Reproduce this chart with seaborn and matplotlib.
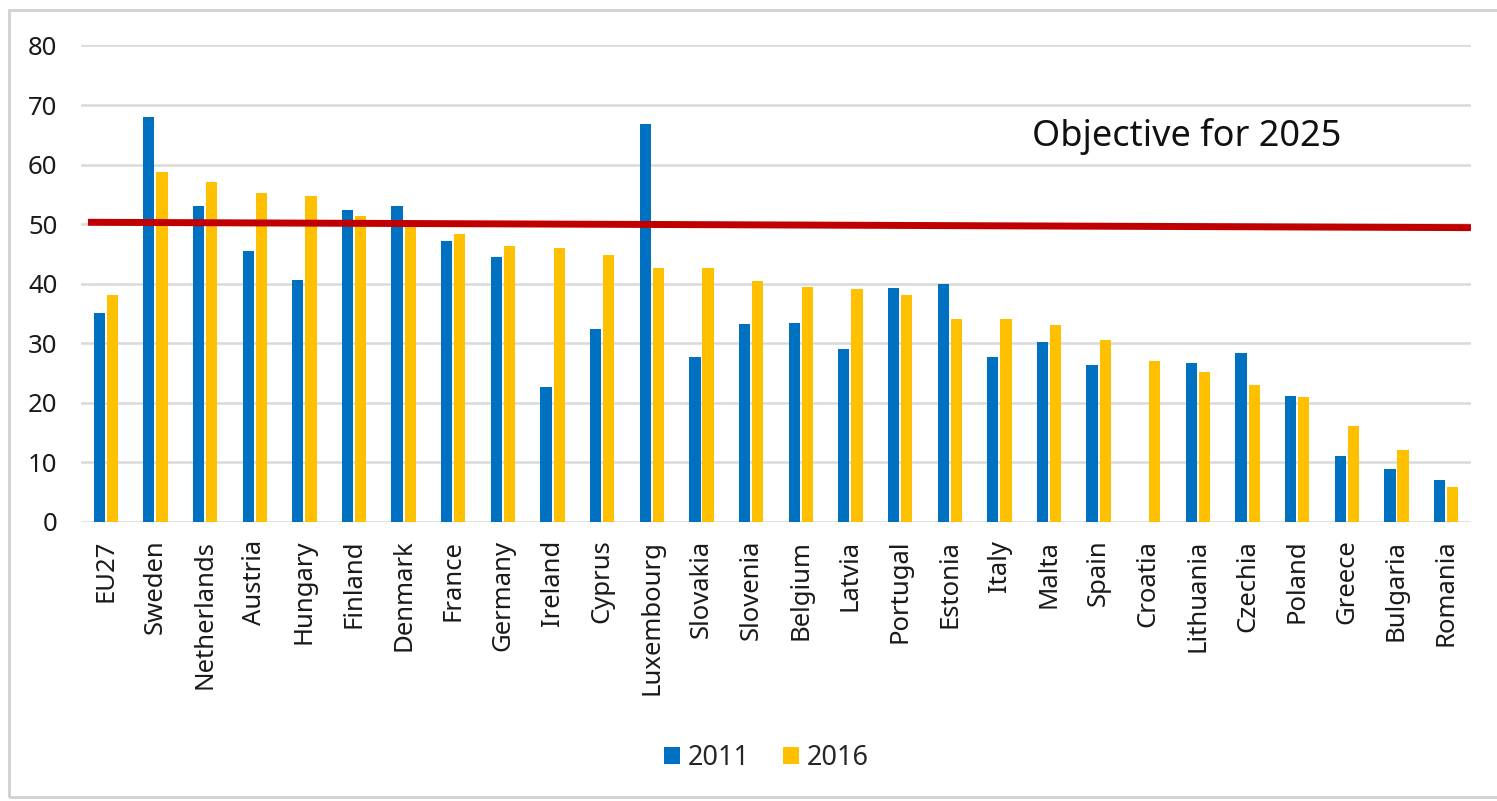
import pandas as pd
import numpy as np
import matplotlib.pyplot as plt
import seaborn as sns
from matplotlib.patches import Rectangle

countries = ['EU27', 'Sweden', 'Netherlands', 'Austria', 'Hungary', 'Finland', 'Denmark',
             'France', 'Germany', 'Ireland', 'Cyprus', 'Luxembourg', 'Slovakia', 'Slovenia',
             'Belgium', 'Latvia', 'Portugal', 'Estonia', 'Italy', 'Malta', 'Spain', 'Croatia',
             'Lithuania', 'Czechia', 'Poland', 'Greece', 'Bulgaria', 'Romania']
values_2011 = [35.0, 68.0, 53.0, 45.4, 40.6, 52.3, 53.1, 47.2, 44.5, 22.7, 32.3, 66.8, 27.6, 33.2,
               33.3, 29.0, 39.2, 40.0, 27.6, 30.2, 26.4, np.nan, 26.6, 28.3, 21.1, 11.0, 8.9, 7.0]
values_2016 = [38.0, 58.7, 57.0, 55.3, 54.7, 51.4, 50.5, 48.4, 46.3, 46.0, 44.8, 42.6, 42.6, 40.4,
               39.5, 39.1, 38.1, 34.0, 34.0, 33.0, 30.5, 27.0, 25.1, 22.9, 21.0, 16.0, 12.0, 5.8]
years = ['2011', '2016']
objective_start = 50.3
objective_end = 49.4
objective_label = 'Objective for 2025'

df = pd.DataFrame({'Country': countries * 2,
                   'Year': [years[0]] * len(countries) + [years[1]] * len(countries),
                   'Value': values_2011 + values_2016})

sns.set_style('white')
plt.rcParams['font.family'] = ['Noto Sans', 'DejaVu Sans']

fig = plt.figure(figsize=(14.97, 8.01), dpi=100)
ax = fig.add_axes([0.0541, 0.3487, 0.9285, 0.5945])

palette = {'2011': '#0070C0', '2016': '#FFC000'}
sns.barplot(data=df, x='Country', y='Value', hue='Year', order=countries, hue_order=years,
            palette=palette, width=0.53, gap=0.15, linewidth=0, saturation=1,
            errorbar=None, ax=ax)

ax.set_ylim(0, 80)
ax.set_xlim(-0.5, len(countries) - 0.5)
ax.set_yticks(range(0, 81, 10))
ax.yaxis.grid(True, color='#D9D9D9', linewidth=1.8)
ax.set_axisbelow(True)
for s in ax.spines.values():
    s.set_visible(False)
ax.set_xlabel('')
ax.set_ylabel('')
ax.tick_params(axis='y', length=0, pad=17, labelsize=18.5, labelcolor='#1a1a1a')
ax.tick_params(axis='x', length=0, pad=13, labelsize=18.5, labelcolor='#1a1a1a')
plt.setp(ax.get_xticklabels(), rotation=90)

# objective line across the plot
ax.plot([-0.36, len(countries) - 0.5], [objective_start, objective_end],
        color='#C00000', linewidth=5, solid_capstyle='butt', zorder=5)
ax.text(18.65, 64.7, objective_label, fontsize=26, va='center', ha='left', color='#111111')

handles, labels = ax.get_legend_handles_labels()
ax.legend_.remove()
fig.legend(handles, labels, loc='center', bbox_to_anchor=(0.512, 0.054), ncol=2,
           frameon=False, fontsize=19.5, handlelength=0.6, handleheight=0.6,
           handletextpad=0.3, columnspacing=1.2)

# outer frame
fig.patches.append(Rectangle((0.006, 0.005), 1.1, 0.983, transform=fig.transFigure,
                             fill=False, edgecolor='#D0D0D0', linewidth=2))

fig.savefig('out.png', dpi=100)
